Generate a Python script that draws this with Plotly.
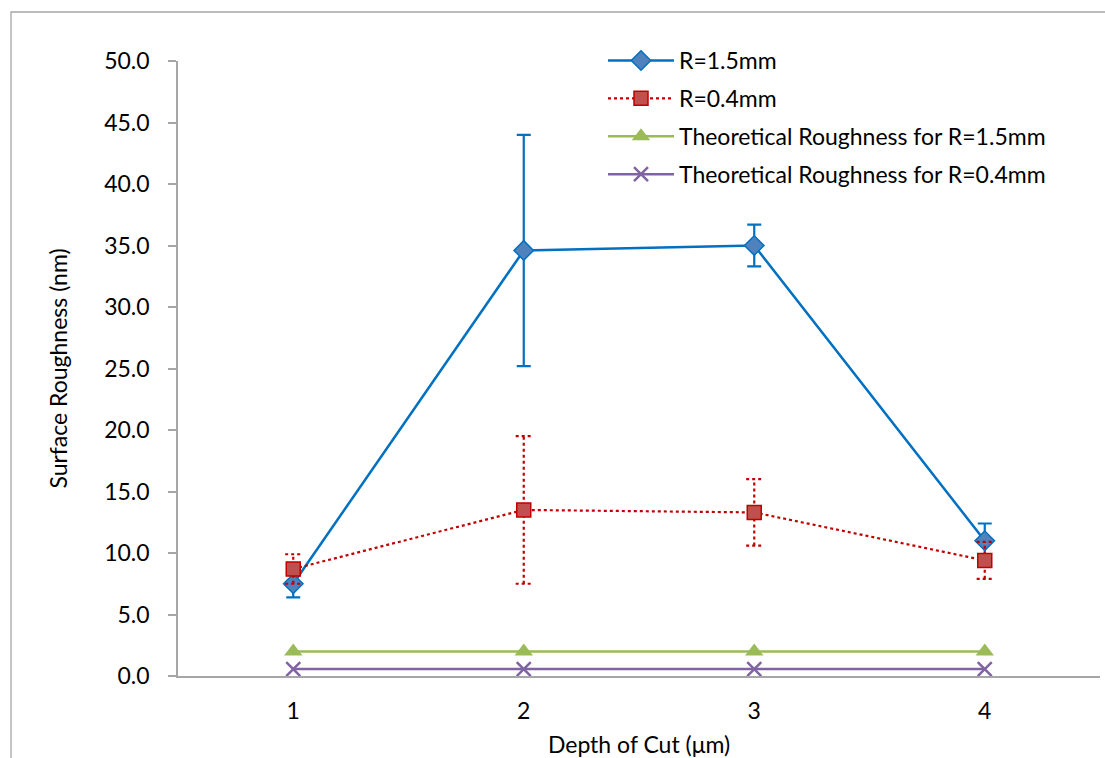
import plotly.graph_objects as go

# Depth of cut (µm)
depth = [1, 2, 3, 4]

# Measured roughness (nm) with standard deviation
r15_mean = [7.5, 34.6, 35.0, 11.0]
r15_err = [1.1, 9.4, 1.7, 1.4]
r04_mean = [8.7, 13.5, 13.3, 9.4]
r04_err = [1.2, 6.0, 2.7, 1.5]

# Theoretical roughness (nm)
theo15 = [2.0, 2.0, 2.0, 2.0]
theo04 = [0.56, 0.56, 0.56, 0.56]

y_ticks = [0, 5, 10, 15, 20, 25, 30, 35, 40, 45, 50]

FONT = "Lato"
FS = 23
BLUE = "#0070C0"
BLUE_FILL = "#4F81BD"
RED = "#C00000"
RED_FILL = "#C0504D"
GREEN = "#9BBB59"
PURPLE = "#8064A2"

fig = go.Figure()

# dotted error bars for the R=0.4mm series
ex, ey = [], []
cap = 0.035
for xi, m, e in zip(depth, r04_mean, r04_err):
    ex += [xi, xi, None, xi - cap, xi + cap, None, xi - cap, xi + cap, None]
    ey += [m - e, m + e, None, m - e, m - e, None, m + e, m + e, None]

fig.add_trace(go.Scatter(
    x=depth, y=r15_mean, mode="lines+markers", name="R=1.5mm", legendgroup="a",
    line=dict(color=BLUE, width=2.5),
    marker=dict(symbol="diamond", size=15, color=BLUE_FILL, line=dict(color=BLUE, width=1.5)),
    error_y=dict(type="data", array=r15_err, visible=True, color=BLUE, thickness=2.2, width=7),
))

fig.add_trace(go.Scatter(
    x=ex, y=ey, mode="lines", showlegend=False, hoverinfo="skip", legendgroup="b",
    line=dict(color=RED, width=2.2, dash="dot"),
))

fig.add_trace(go.Scatter(
    x=depth, y=r04_mean, mode="lines+markers", name="R=0.4mm", legendgroup="b",
    line=dict(color=RED, width=2.2, dash="dot"),
    marker=dict(symbol="square", size=14, color=RED_FILL, line=dict(color=RED, width=1.5)),
))

fig.add_trace(go.Scatter(
    x=depth, y=theo15, mode="lines+markers", name="Theoretical Roughness for R=1.5mm",
    legendgroup="c",
    line=dict(color=GREEN, width=2.5),
    marker=dict(symbol="triangle-up", size=16, color=GREEN),
))

fig.add_trace(go.Scatter(
    x=depth, y=theo04, mode="lines+markers", name="Theoretical Roughness for R=0.4mm",
    legendgroup="d",
    line=dict(color=PURPLE, width=2.5),
    marker=dict(symbol="x-thin", size=14, color=PURPLE, line=dict(color=PURPLE, width=2.5)),
))

# outer chart frame
L, R, T, B = 178, 5, 61, 82
W, H = 1105, 758
pw, ph = W - L - R, H - T - B
def px(xpix):
    return (xpix - L) / pw
def py(ypix):
    return (H - B - ypix) / ph

fig.add_shape(type="rect", xref="paper", yref="paper",
              x0=px(11), x1=px(1112), y0=py(770), y1=py(12),
              line=dict(color="#A6A6A6", width=1.3), fillcolor="rgba(0,0,0,0)", layer="below")

fig.update_layout(
    width=W, height=H,
    margin=dict(l=L, r=R, t=T, b=B, autoexpand=False),
    paper_bgcolor="white", plot_bgcolor="white",
    font=dict(family=FONT, size=FS, color="#000000"),
    showlegend=True,
    legend=dict(x=px(603), y=py(39), xanchor="left", yanchor="top",
                bgcolor="rgba(0,0,0,0)", font=dict(family=FONT, size=FS),
                itemwidth=66, tracegroupgap=5),
    xaxis=dict(
        range=[0.5, 4.5], tickmode="array", tickvals=depth, ticktext=[str(d) for d in depth],
        showgrid=False, zeroline=False, showline=True, linecolor="#A6A6A6", linewidth=1.5,
        ticks="", tickfont=dict(family=FONT, size=FS), ticklabelstandoff=14,
        automargin=False,
        title=dict(text="Depth of Cut (μm)", font=dict(family=FONT, size=FS), standoff=16),
    ),
    yaxis=dict(
        range=[0, 50], tickmode="array", tickvals=y_ticks,
        ticktext=[f"{v:.1f}" for v in y_ticks],
        showgrid=False, zeroline=False, showline=True, linecolor="#A6A6A6", linewidth=1.5,
        ticks="outside", ticklen=8, tickcolor="#A6A6A6", tickwidth=1.5,
        tickfont=dict(family=FONT, size=FS), ticklabelstandoff=14,
        automargin=False,
        title=dict(text="Surface Roughness (nm)", font=dict(family=FONT, size=FS), standoff=30),
    ),
)

fig.write_html("out.html")
